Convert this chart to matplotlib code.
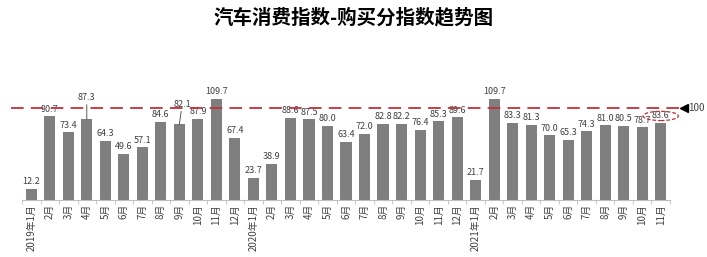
import matplotlib
matplotlib.use('Agg')
import matplotlib.pyplot as plt
from matplotlib.patches import Ellipse

plt.rcParams['font.family'] = ['Noto Sans CJK SC', 'DejaVu Sans']

# 月份标签
months = ['2019年1月', '2月', '3月', '4月', '5月', '6月', '7月', '8月', '9月', '10月', '11月', '12月',
          '2020年1月', '2月', '3月', '4月', '5月', '6月', '7月', '8月', '9月', '10月', '11月', '12月',
          '2021年1月', '2月', '3月', '4月', '5月', '6月', '7月', '8月', '9月', '10月', '11月']
# 购买分指数
values = [12.2, 90.7, 73.4, 87.3, 64.3, 49.6, 57.1, 84.6, 82.1, 87.9, 109.7, 67.4,
          23.7, 38.9, 88.6, 87.5, 80.0, 63.4, 72.0, 82.8, 82.2, 76.4, 85.3, 89.6,
          21.7, 109.7, 83.3, 81.3, 70.0, 65.3, 74.3, 81.0, 80.5, 78.7, 83.6]
ref_value = 100

fig = plt.figure(figsize=(7.07, 2.57), dpi=100)
ax = fig.add_axes([22 / 707, 57 / 257, 648 / 707, 143 / 257])

x = list(range(len(values)))
ax.bar(x, values, width=0.6, color='#7f7f7f', zorder=2)
ax.set_xlim(-0.5, len(values) - 0.5)
ax.set_ylim(0, 155)

# 数据标签 (部分带引导线)
raised = {3: 12, 8: 10}
for i, v in enumerate(values):
    if i in raised:
        ax.annotate(f'{v:.1f}', xy=(i, v), xytext=(i + (0.15 if i == 8 else 0), v + raised[i] + 7),
                    ha='center', va='bottom', fontsize=6.5, color='#404040',
                    arrowprops=dict(arrowstyle='-', color='#404040', lw=0.6, shrinkA=0, shrinkB=0))
    else:
        ax.text(i, v + 3, f'{v:.1f}', ha='center', va='bottom', fontsize=6.5, color='#404040', zorder=3)

# 100 参考线
ax.plot([-1.1, 35.0], [ref_value, ref_value], color='#c0303a', lw=1.3,
        dashes=(7, 4), clip_on=False, zorder=4)
ax.plot([35.25], [ref_value], marker='<', color='black', markersize=6, clip_on=False)
ax.text(35.5, ref_value, '100', ha='left', va='center', fontsize=7, color='#404040')

# 标注最新值
ell = Ellipse((len(values) - 1, values[-1] + 7.5), width=1.9, height=10, fill=False,
              edgecolor='#c0303a', lw=0.9, linestyle=(0, (3, 1.5)), clip_on=False, zorder=4)
ax.add_patch(ell)

ax.set_xticks(x)
ax.set_xticklabels(months, rotation=90, fontsize=7, color='#404040')
ax.set_xticks([i + 0.5 for i in range(-1, len(values))], minor=True)
ax.tick_params(axis='x', which='major', length=0, pad=3)
ax.tick_params(axis='x', which='minor', length=3, color='#bfbfbf')
ax.set_yticks([])
for s in ['left', 'right', 'top']:
    ax.spines[s].set_visible(False)
ax.spines['bottom'].set_color('#bfbfbf')

fig.text(0.5, 0.93, '汽车消费指数-购买分指数趋势图', ha='center', va='center',
         fontsize=14, fontweight='bold')

fig.savefig('out.png', dpi=100)
